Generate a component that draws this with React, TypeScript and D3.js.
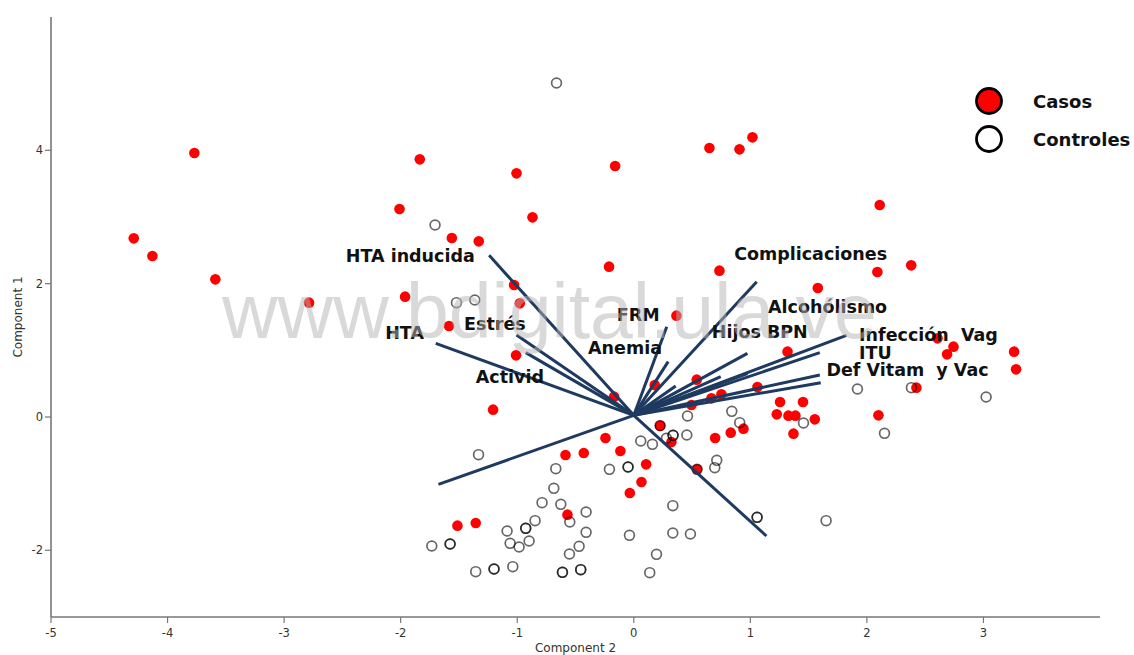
import React from "react";
import * as d3 from "d3";

// Component 2 (x), Component 1 (y)
const casos: [number, number][] = [
  [-4.29, 2.68], [-4.13, 2.415], [-3.77, 3.96], [-3.59, 2.065], [-2.786, 1.715],
  [-1.836, 3.865], [-2.01, 3.12], [-1.561, 2.685], [-1.33, 2.635], [-1.006, 3.655],
  [-0.869, 2.995], [-1.962, 1.805], [-1.027, 1.98], [-0.978, 1.705], [-0.16, 3.765],
  [0.649, 4.035], [0.907, 4.015], [1.018, 4.195], [-0.212, 2.255], [0.735, 2.195],
  [2.11, 3.18], [2.38, 2.275], [2.09, 2.175], [1.579, 1.935], [1.319, 0.98],
  [2.606, 1.18], [2.743, 1.055], [2.688, 0.94], [3.263, 0.98], [3.28, 0.715],
  [2.425, 0.44], [2.099, 0.025], [1.255, 0.225], [1.452, 0.225], [1.227, 0.04],
  [1.327, 0.02], [1.387, 0.02], [1.553, -0.035], [1.37, -0.25], [1.061, 0.45],
  [0.941, -0.175], [0.832, -0.235], [0.698, -0.315], [0.226, -0.13], [0.323, -0.375],
  [-0.115, -0.51], [0.106, -0.71], [0.066, -0.975], [-0.034, -1.14], [0.543, -0.785],
  [-0.243, -0.315], [-0.429, -0.54], [-0.586, -0.57], [-0.569, -1.465], [-1.513, -1.63],
  [-1.356, -1.59], [-1.207, 0.11], [-1.01, 0.925], [-1.585, 1.365], [0.366, 1.52],
  [-0.169, 0.305], [0.18, 0.48], [0.54, 0.56], [0.666, 0.28], [0.752, 0.34],
  [0.495, 0.18],
];

const controles: [number, number][] = [
  [-0.663, 5.01], [-1.705, 2.88], [-1.521, 1.715], [-1.364, 1.755], [2.382, 0.44],
  [1.919, 0.42], [3.023, 0.3], [2.151, -0.245], [1.456, -0.09], [0.841, 0.085],
  [0.909, -0.085], [0.461, 0.015], [0.455, -0.27], [0.226, -0.13], [0.337, -0.275],
  [0.337, -0.275], [0.28, -0.32], [0.16, -0.41], [0.06, -0.36], [-0.049, -0.75],
  [-0.049, -0.75], [0.543, -0.785], [0.712, -0.65], [0.695, -0.76], [0.335, -1.33],
  [1.058, -1.505], [1.058, -1.505], [1.65, -1.555], [0.335, -1.74], [0.486, -1.755],
  [-0.037, -1.775], [0.137, -2.335], [0.195, -2.06], [-1.332, -0.565], [-0.209, -0.785],
  [-0.669, -0.775], [-0.686, -1.07], [-0.787, -1.285], [-0.626, -1.31], [-0.549, -1.575],
  [-0.409, -1.425], [-0.409, -1.73], [-0.469, -1.94], [-0.552, -2.055], [-0.455, -2.29],
  [-0.455, -2.29], [-0.612, -2.33], [-0.612, -2.33], [-0.847, -1.555], [-0.927, -1.67],
  [-0.927, -1.67], [-1.087, -1.71], [-1.061, -1.895], [-0.984, -1.95], [-0.898, -1.86],
  [-1.038, -2.245], [-1.199, -2.28], [-1.199, -2.28], [-1.356, -2.32], [-1.733, -1.935],
  [-1.576, -1.905], [-1.576, -1.905],
];

const origen: [number, number] = [0, 0.025];

const cargas: { name: string; x: number; y: number }[] = [
  { name: "HTA inducida", x: -1.241, y: 2.425 },
  { name: "HTA", x: -1.699, y: 1.105 },
  { name: "Estrés", x: -1.006, y: 1.23 },
  { name: "Activid", x: -0.927, y: 0.965 },
  { name: "v5", x: -1.676, y: -1.01 },
  { name: "v6", x: 1.138, y: -1.785 },
  { name: "FRM", x: 0.283, y: 1.355 },
  { name: "Anemia", x: 0.295, y: 0.83 },
  { name: "Complicaciones", x: 1.055, y: 2.03 },
  { name: "Hijos BPN", x: 0.975, y: 0.955 },
  { name: "Infección Vag", x: 1.825, y: 1.225 },
  { name: "ITU", x: 1.596, y: 0.965 },
  { name: "Def Vitam y Vac", x: 1.596, y: 0.63 },
  { name: "v14", x: 1.604, y: 0.515 },
  { name: "Alcohólismo", x: 0.746, y: 0.605 },
  { name: "v16", x: 0.975, y: 0.65 },
  { name: "v17", x: 0.36, y: 0.465 },
];

const etiquetas: { text: string; x: number; y: number }[] = [
  { text: "HTA inducida", x: -2.471, y: 2.325 },
  { text: "HTA", x: -2.133, y: 1.165 },
  { text: "Estrés", x: -1.456, y: 1.3 },
  { text: "Activid", x: -1.356, y: 0.515 },
  { text: "FRM", x: -0.146, y: 1.44 },
  { text: "Anemia", x: -0.392, y: 0.94 },
  { text: "Complicaciones", x: 0.861, y: 2.35 },
  { text: "Alcohólismo", x: 1.152, y: 1.565 },
  { text: "Hijos BPN", x: 0.669, y: 1.18 },
  { text: "Infección  Vag", x: 1.933, y: 1.14 },
  { text: "ITU", x: 1.933, y: 0.865 },
  { text: "Def Vitam  y Vac", x: 1.653, y: 0.615 },
];

const xTicks = [-5, -4, -3, -2, -1, 0, 1, 2, 3];
const yTicks = [-2, 0, 2, 4];
const leyenda = ["Casos", "Controles"];

export default function App() {
  const W = 1134;
  const H = 655;
  const x = d3.scaleLinear().domain([-5, 4]).range([51, 1100]);
  const y = d3.scaleLinear().domain([-3, 6]).range([617, 17]);
  const line = d3.line<[number, number]>().x((d) => x(d[0])).y((d) => y(d[1]));
  const labelFont = "'DejaVu Sans', Verdana, sans-serif";

  return (
    <svg
      width={W}
      height={H}
      style={{ position: "absolute", left: 0, top: 0, background: "#fff" }}
      xmlns="http://www.w3.org/2000/svg"
    >
      <rect x={0} y={0} width={W} height={H} fill="#fff" />
      {/* axes */}
      <line x1={x(-5)} x2={x(4)} y1={y(-3)} y2={y(-3)} stroke="#777" strokeWidth={1.6} />
      <line x1={x(-5)} x2={x(-5)} y1={y(-3)} y2={y(6)} stroke="#777" strokeWidth={1.6} />
      {xTicks.map((t) => (
        <g key={"xt" + t}>
          <line x1={x(t)} x2={x(t)} y1={y(-3)} y2={y(-3) + 6} stroke="#777" strokeWidth={1.2} />
          <text
            x={x(t)}
            y={y(-3) + 20}
            textAnchor="middle"
            fontFamily={labelFont}
            fontSize={11.5}
            fill="#333"
          >
            {t}
          </text>
        </g>
      ))}
      {yTicks.map((t) => (
        <g key={"yt" + t}>
          <line x1={x(-5) - 6} x2={x(-5)} y1={y(t)} y2={y(t)} stroke="#777" strokeWidth={1.2} />
          <text
            x={x(-5) - 8}
            y={y(t) + 4}
            textAnchor="end"
            fontFamily={labelFont}
            fontSize={11.5}
            fill="#333"
          >
            {t}
          </text>
        </g>
      ))}
      <text
        x={(x(-5) + x(4)) / 2}
        y={652}
        textAnchor="middle"
        fontFamily={labelFont}
        fontSize={12}
        fill="#333"
      >
        Component 2
      </text>
      <text
        transform={`translate(22, ${(y(-3) + y(6)) / 2}) rotate(-90)`}
        textAnchor="middle"
        fontFamily={labelFont}
        fontSize={12}
        fill="#333"
      >
        Component 1
      </text>

      {/* points */}
      {casos.map((d, i) => (
        <circle key={"c" + i} cx={x(d[0])} cy={y(d[1])} r={5.3} fill="#ff0000" />
      ))}
      {controles.map((d, i) => (
        <circle
          key={"o" + i}
          cx={x(d[0])}
          cy={y(d[1])}
          r={4.9}
          fill="none"
          stroke="#000"
          strokeOpacity={0.6}
          strokeWidth={1.7}
        />
      ))}

      {/* loading vectors */}
      {cargas.map((v, i) => (
        <path
          key={"v" + i}
          d={line([origen, [v.x, v.y]]) || ""}
          stroke="#1f3a60"
          strokeWidth={3}
          fill="none"
        />
      ))}

      {/* labels */}
      {etiquetas.map((l, i) => (
        <text
          key={"l" + i}
          x={x(l.x)}
          y={y(l.y)}
          fontFamily={labelFont}
          fontWeight="bold"
          fontSize={17.5}
          fill="#111"
          style={{ whiteSpace: "pre" }}
        >
          {l.text}
        </text>
      ))}

      {/* legend */}
      {leyenda.map((name, i) => (
        <g key={"lg" + name} transform={`translate(989, ${101 + i * 38})`}>
          <circle r={12.5} fill={i === 0 ? "#ff0000" : "#fff"} stroke="#000" strokeWidth={2.8} />
          <text
            x={44}
            y={6.5}
            fontFamily={labelFont}
            fontWeight="bold"
            fontSize={18}
            fill="#111"
          >
            {name}
          </text>
        </g>
      ))}

      {/* watermark */}
      <text
        x={222}
        y={338}
        fontFamily="'Liberation Sans', Arial, sans-serif"
        fontSize={77}
        fill="#b4b4b4"
        fillOpacity={0.5}
      >
        www.bdigital.ula.ve
      </text>
    </svg>
  );
}
